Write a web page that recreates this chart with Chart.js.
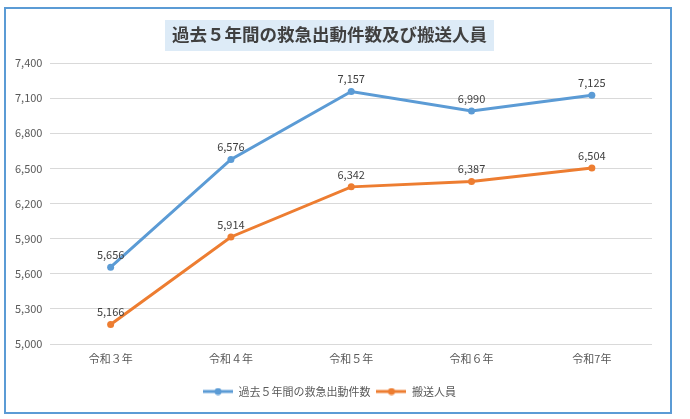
<!DOCTYPE html>
<html>
<head>
<meta charset="utf-8">
<script src="https://cdn.jsdelivr.net/npm/chart.js@4"></script>
<style>
  html, body { margin: 0; padding: 0; background: #fff; }
  #wrap { width: 690px; height: 419px; }
</style>
</head>
<body>
<div id="wrap"><canvas id="chart"></canvas></div>
<script>
// データ
const chartTitle = '過去５年間の救急出動件数及び搬送人員';
const years = ['令和３年', '令和４年', '令和５年', '令和６年', '令和7年'];
const dispatchCounts = [5656, 6576, 7157, 6990, 7125];
const transportedPeople = [5166, 5914, 6342, 6387, 6504];
const yTicks = [5000, 5300, 5600, 5900, 6200, 6500, 6800, 7100, 7400];

const FONT = '"Noto Sans CJK JP", "Noto Sans", sans-serif';
const BLUE = '#5B9BD5';
const ORANGE = '#ED7D31';

// 凡例用の「線＋点」アイコン
function legendIcon(color) {
    const c = document.createElement('canvas');
    c.width = 30; c.height = 8;
    const g = c.getContext('2d');
    g.strokeStyle = color; g.lineWidth = 3;
    g.beginPath(); g.moveTo(0, 4); g.lineTo(30, 4); g.stroke();
    g.fillStyle = color;
    g.beginPath(); g.arc(15, 4, 3.5, 0, Math.PI * 2); g.fill();
    return c;
}

// 外枠とタイトル背景
const framePlugin = {
    id: 'frame',
    beforeDraw(chart) {
        const ctx = chart.ctx;
        ctx.save();
        ctx.fillStyle = '#fff';
        ctx.fillRect(0, 0, chart.width, chart.height);
        const tb = chart.titleBlock;
        ctx.font = 'bold 17.5px ' + FONT;
        const w = ctx.measureText(chartTitle).width + 14;
        const cx = (tb.left + tb.right) / 2;
        ctx.fillStyle = '#DDEBF7';
        ctx.fillRect(cx - w / 2, 20, w, 31);
        ctx.strokeStyle = BLUE;
        ctx.lineWidth = 2;
        ctx.strokeRect(5, 8, 666, 405);
        ctx.restore();
    }
};

// データラベル
const valueLabels = {
    id: 'valueLabels',
    afterDatasetsDraw(chart) {
        const ctx = chart.ctx;
        ctx.save();
        ctx.font = '11px ' + FONT;
        ctx.fillStyle = '#404040';
        ctx.textAlign = 'center';
        ctx.textBaseline = 'bottom';
        chart.data.datasets.forEach((ds, i) => {
            chart.getDatasetMeta(i).data.forEach((pt, j) => {
                ctx.fillText(ds.data[j].toLocaleString('en-US'), pt.x, pt.y - 7);
            });
        });
        ctx.restore();
    }
};

new Chart(document.getElementById('chart'), {
    type: 'line',
    data: {
        labels: years,
        datasets: [{
            label: '過去５年間の救急出動件数',
            data: dispatchCounts,
            borderColor: BLUE,
            backgroundColor: BLUE,
            borderWidth: 3,
            pointRadius: 3.5,
            pointBorderWidth: 0,
            tension: 0
        }, {
            label: '搬送人員',
            data: transportedPeople,
            borderColor: ORANGE,
            backgroundColor: ORANGE,
            borderWidth: 3,
            pointRadius: 3.5,
            pointBorderWidth: 0,
            tension: 0
        }]
    },
    options: {
        responsive: true,
        maintainAspectRatio: false,
        animation: false,
        layout: { padding: { top: 20, left: 7, right: 38, bottom: 12 } },
        plugins: {
            title: {
                display: true,
                text: chartTitle,
                color: '#404040',
                font: { family: FONT, size: 17.5, weight: 'bold' },
                padding: { top: 4, bottom: 18 }
            },
            legend: {
                position: 'bottom',
                labels: {
                    color: '#595959',
                    font: { family: FONT, size: 11 },
                    usePointStyle: true,
                    pointStyleWidth: 30,
                    padding: 6,
                    generateLabels(chart) {
                        return chart.data.datasets.map((ds, i) => ({
                            text: ds.label,
                            fillStyle: ds.borderColor,
                            strokeStyle: ds.borderColor,
                            lineWidth: 0,
                            pointStyle: legendIcon(ds.borderColor),
                            fontColor: '#595959',
                            datasetIndex: i
                        }));
                    }
                }
            },
            tooltip: { enabled: false }
        },
        scales: {
            x: {
                offset: true,
                grid: { display: false },
                border: { display: false },
                ticks: { color: '#595959', font: { family: FONT, size: 11 }, padding: 0 },
                afterFit(scale) { scale.height = 36; }
            },
            y: {
                min: 5000,
                max: 7400,
                afterBuildTicks(scale) { scale.ticks = yTicks.map(v => ({ value: v })); },
                grid: { color: '#D9D9D9', drawTicks: false },
                border: { display: false },
                ticks: {
                    color: '#595959',
                    font: { family: FONT, size: 11 },
                    padding: 8,
                    callback: v => v.toLocaleString('en-US')
                }
            }
        }
    },
    plugins: [framePlugin, valueLabels]
});
</script>
</body>
</html>
